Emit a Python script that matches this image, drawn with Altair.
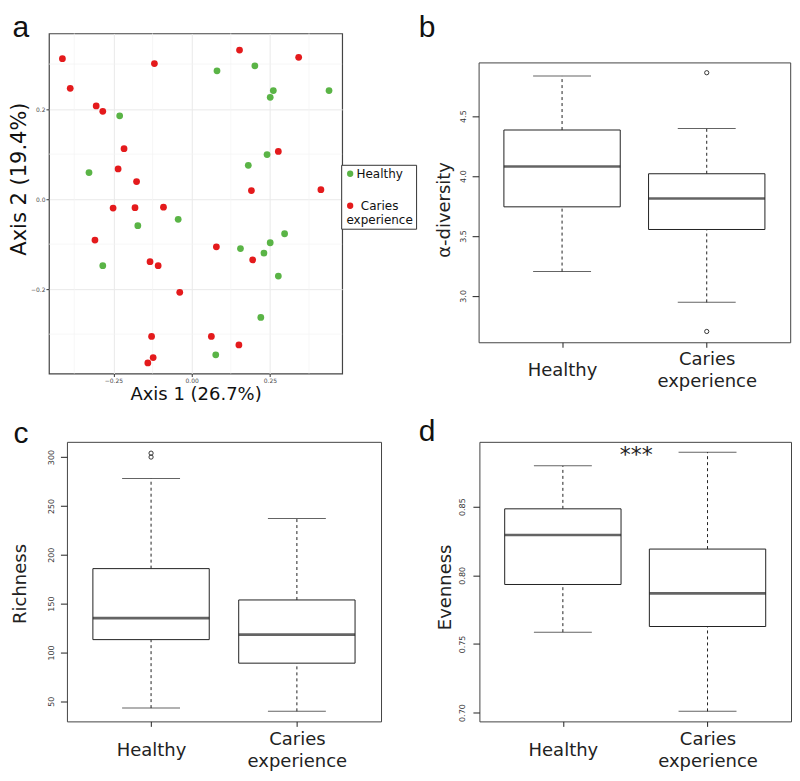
import altair as alt
import pandas as pd

FONT = "DejaVu Sans"
LETTER_FONT = "Liberation Sans"
INK = "#222222"

groups = ["Healthy", "Caries experience"]
group_colors = ["#5ab446", "#e41a1c"]

# ---------------- panel a: PCoA ----------------
caries_x = [-0.413, -0.388, -0.119, 0.153, 0.342, -0.305, -0.284, -0.216, -0.235, -0.176,
            0.277, 0.191, 0.413, -0.251, -0.181, -0.090, -0.309, 0.079, 0.195, -0.133,
            -0.107, -0.038, -0.128, 0.063, 0.151, -0.123, -0.140]
caries_y = [0.312, 0.246, 0.301, 0.331, 0.315, 0.207, 0.195, 0.112, 0.067, 0.039,
            0.106, 0.019, 0.021, -0.020, -0.019, -0.018, -0.091, -0.106, -0.135, -0.139,
            -0.148, -0.207, -0.305, -0.305, -0.324, -0.352, -0.364]
healthy_x = [0.081, 0.202, 0.261, 0.251, 0.439, -0.230, 0.241, 0.181, -0.328, -0.043,
             -0.172, 0.297, 0.251, 0.156, 0.231, -0.284, 0.277, 0.221, 0.077]
healthy_y = [0.285, 0.296, 0.241, 0.226, 0.241, 0.185, 0.099, 0.075, 0.059, -0.045,
             -0.059, -0.077, -0.097, -0.110, -0.120, -0.148, -0.171, -0.263, -0.346]
pcoa_x_domain = [-0.456, 0.481]
pcoa_y_domain = [-0.3875, 0.368]
pcoa_x_ticks = [-0.25, 0.0, 0.25]
pcoa_y_ticks = [-0.2, 0.0, 0.2]
minor_x = [-0.375, -0.125, 0.125, 0.375]
minor_y = [-0.3, -0.1, 0.1, 0.3]

# ---------------- panel b: alpha diversity ----------------
alpha_lower = [3.203, 2.946]
alpha_q1 = [3.743, 3.554]
alpha_median = [4.079, 3.813]
alpha_q3 = [4.384, 4.019]
alpha_upper = [4.835, 4.397]
alpha_out_group = ["Caries experience", "Caries experience"]
alpha_out_value = [4.862, 2.703]
alpha_domain = [2.613, 4.948]
alpha_ticks = [3.0, 3.5, 4.0, 4.5]

# ---------------- panel c: richness ----------------
rich_lower = [43.0, 39.7]
rich_q1 = [113.1, 89.0]
rich_median = [135.1, 118.2]
rich_q3 = [185.8, 153.7]
rich_upper = [278.1, 237.0]
rich_out_group = ["Healthy", "Healthy"]
rich_out_value = [304.0, 300.0]
rich_domain = [29.4, 315.6]
rich_ticks = [50, 100, 150, 200, 250, 300]

# ---------------- panel d: evenness ----------------
even_lower = [0.7586, 0.7009]
even_q1 = [0.7933, 0.7627]
even_median = [0.8293, 0.7868]
even_q3 = [0.8484, 0.8191]
even_upper = [0.8797, 0.8897]
even_domain = [0.6936, 0.8972]
even_ticks = [0.70, 0.75, 0.80, 0.85]
signif_label = ["***"]
signif_value = [0.8825]

two_line = "datum.label == 'Caries experience' ? ['Caries', 'experience'] : datum.label"


def letter_layer(letter, lx, ly):
    return alt.Chart(pd.DataFrame({"t": [letter]})).mark_text(
        align="left", baseline="alphabetic", fontSize=30, font=LETTER_FONT, color="#111111"
    ).encode(text="t:N", x=alt.value(lx), y=alt.value(ly))


# ---------- panel a ----------
scat_df = pd.DataFrame({
    "x": healthy_x + caries_x,
    "y": healthy_y + caries_y,
    "group": ["Healthy"] * len(healthy_x) + ["Caries experience"] * len(caries_x),
})
xs_a = alt.Scale(domain=pcoa_x_domain, nice=False, zero=False)
ys_a = alt.Scale(domain=pcoa_y_domain, nice=False, zero=False)
ax_a_x = alt.Axis(
    values=pcoa_x_ticks, format=".2f", title="Axis 1 (26.7%)", grid=True, gridColor="#e9e9e9",
    gridWidth=1, domain=False, tickSize=3, tickColor="#333333", labelFontSize=6, labelColor="#4d4d4d",
    labelPadding=1, labelFlush=False, titleFontSize=18, titleFont=FONT, titleFontWeight="normal",
    titleColor="#111111", titleY=12.4, titleBaseline="top")
ax_a_y = alt.Axis(
    values=pcoa_y_ticks, format=".1f", title="Axis 2 (19.4%)", grid=True, gridColor="#e9e9e9",
    gridWidth=1, domain=False, tickSize=3, tickColor="#333333", labelFontSize=6, labelColor="#4d4d4d",
    labelPadding=1, labelFlush=False, titleFontSize=21, titleFont=FONT, titleFontWeight="normal",
    titleColor="#111111", titleX=-19.1, titleY=145.3, titleAngle=270, titleBaseline="bottom")

minor_v = alt.Chart(pd.DataFrame({"v": minor_x})).mark_rule(color="#f3f3f3", strokeWidth=0.7).encode(
    x=alt.X("v:Q", scale=xs_a, axis=ax_a_x))
minor_h = alt.Chart(pd.DataFrame({"v": minor_y})).mark_rule(color="#f3f3f3", strokeWidth=0.7).encode(
    y=alt.Y("v:Q", scale=ys_a, axis=ax_a_y))

points = alt.Chart(scat_df).mark_circle(size=46, opacity=1).encode(
    x=alt.X("x:Q", scale=xs_a, axis=ax_a_x),
    y=alt.Y("y:Q", scale=ys_a, axis=ax_a_y),
    color=alt.Color("group:N", scale=alt.Scale(domain=groups, range=group_colors), legend=alt.Legend(
        title=None, orient="none", legendX=292.6, legendY=131.5, strokeColor="#333333", fillColor="white",
        padding=3, labelFontSize=12, labelFont=FONT, labelColor="#111111", symbolType="circle",
        symbolSize=40, symbolStrokeWidth=0, labelAlign="center", labelOffset=23.5, labelBaseline="middle",
        rowPadding=20, labelExpr=two_line)),
)
panel_a = alt.layer(minor_v, minor_h, points, letter_layer("a", -36.5, 3.6)).properties(
    width=293.6, height=340.5, view=alt.ViewBackground(stroke="#444444", strokeWidth=1.2))


# ---------- box panels ----------
def box_panel(lower, q1, med, q3, upper, out_group, out_value, ydom, yticks, yfmt, ytitle,
              w, h, title_x, title_y, lab_pad, x_lab_pad, letter, lx, ly, extra=None):
    stats = pd.DataFrame({"group": groups, "lower": lower, "q1": q1, "median": med,
                          "q3": q3, "upper": upper})
    xs = alt.Scale(type="point", domain=groups, padding=0.577)
    ys = alt.Scale(domain=ydom, nice=False, zero=False)
    # single-line "Healthy" sits half a line lower, between "Caries" and "experience"
    x_pad = {"condition": {"test": "datum.value == 'Healthy'", "value": x_lab_pad + 11.05},
             "value": x_lab_pad}
    xaxis = alt.Axis(title=None, domain=False, grid=False, tickSize=5, tickColor=INK, labelFontSize=18,
                     labelFont=FONT, labelColor=INK, labelPadding=x_pad, labelBaseline="alphabetic",
                     labelLineHeight=22.1, labelAngle=0, labelExpr=two_line)
    yaxis = alt.Axis(title=ytitle, values=yticks, format=yfmt, domain=False, grid=False, tickSize=6.5,
                     tickColor=INK, labelFontSize=8, labelAngle=270, labelAlign="center",
                     labelBaseline="bottom", labelPadding=lab_pad, labelColor="#333333", labelFlush=False,
                     titleFontSize=18, titleFont=FONT, titleFontWeight="normal", titleColor=INK,
                     titleX=title_x, titleY=title_y, titleAngle=270, titleBaseline="bottom",
                     titleAlign="center")

    def X():
        return alt.X("group:N", scale=xs, axis=xaxis)

    def Y(f):
        return alt.Y(f, scale=ys, axis=yaxis)

    base = alt.Chart(stats)
    wh_up = base.mark_rule(color=INK, strokeWidth=1, strokeDash=[3, 3]).encode(
        x=X(), y=Y("q3:Q"), y2="upper:Q")
    wh_lo = base.mark_rule(color=INK, strokeWidth=1, strokeDash=[3, 3]).encode(
        x=X(), y=Y("lower:Q"), y2="q1:Q")
    box = base.mark_bar(size=116.5, fill="white", stroke=INK, strokeWidth=1).encode(
        x=X(), y=Y("q1:Q"), y2="q3:Q")
    med_t = base.mark_tick(size=116.5, thickness=2.6, color=INK).encode(x=X(), y=Y("median:Q"))
    cap_u = base.mark_tick(size=58, thickness=1, color=INK).encode(x=X(), y=Y("upper:Q"))
    cap_l = base.mark_tick(size=58, thickness=1, color=INK).encode(x=X(), y=Y("lower:Q"))
    layers = [wh_up, wh_lo, box, med_t, cap_u, cap_l]
    if out_value:
        odf = pd.DataFrame({"group": out_group, "v": out_value})
        layers.append(alt.Chart(odf).mark_point(shape="circle", size=18, filled=False, color=INK,
                                                strokeWidth=0.9, opacity=1).encode(x=X(), y=Y("v:Q")))
    if extra is not None:
        layers.append(extra(Y))
    layers.append(letter_layer(letter, lx, ly))
    return alt.layer(*layers).properties(
        width=w, height=h, view=alt.ViewBackground(stroke="#444444", strokeWidth=1))


def signif(Y):
    return alt.Chart(pd.DataFrame({"t": signif_label, "v": signif_value})).mark_text(
        align="center", baseline="alphabetic", fontSize=22, font=FONT, color=INK).encode(
        text="t:N", x=alt.value(157), y=Y("v:Q"))


panel_b = box_panel(alpha_lower, alpha_q1, alpha_median, alpha_q3, alpha_upper,
                    alpha_out_group, alpha_out_value, alpha_domain, alpha_ticks, ".1f", "α-diversity",
                    312, 280.2, -25.3, 147.2, 4.6, 17.0, "b", -60, -25.3)
panel_c = box_panel(rich_lower, rich_q1, rich_median, rich_q3, rich_upper,
                    rich_out_group, rich_out_value, rich_domain, rich_ticks, "d", "Richness",
                    314.5, 279.9, -37.0, 141.8, 5.2, 17.7, "c", -53.5, 0.7)
panel_d = box_panel(even_lower, even_q1, even_median, even_q3, even_upper,
                    [], [], even_domain, even_ticks, ".2f", "Evenness",
                    312, 279.9, -25.3, 145.2, 6.6, 17.7, "d", -60.7, -1.3, extra=signif)


def spacer(w, h):
    return alt.Chart(pd.DataFrame({"v": [0]})).mark_point(opacity=0).encode(
        x=alt.X("v:Q", axis=None), y=alt.Y("v:Q", axis=None)).properties(
        width=w, height=h, view=alt.ViewBackground(strokeOpacity=0))


col_b = alt.vconcat(spacer(312, 28.9), panel_b, spacing=0, bounds="flush")
row_top = alt.hconcat(panel_a, col_b, spacing=136.2, bounds="flush")
row_cd = alt.hconcat(panel_c, panel_d, spacing=98, bounds="flush")
row_bottom = alt.hconcat(spacer(17.3, 10), row_cd, spacing=0, bounds="flush")

# nested flush groups report no own height, so the spacing is the full top-to-top offset
chart = alt.vconcat(row_top, row_bottom, spacing=408.9, bounds="flush").properties(
    padding={"top": 4, "left": 0, "right": 0, "bottom": 0}, background="white"
).configure_view(stroke="#444444").configure(font=FONT)

chart.save("out.html", embed_options={"renderer": "svg", "actions": False})
